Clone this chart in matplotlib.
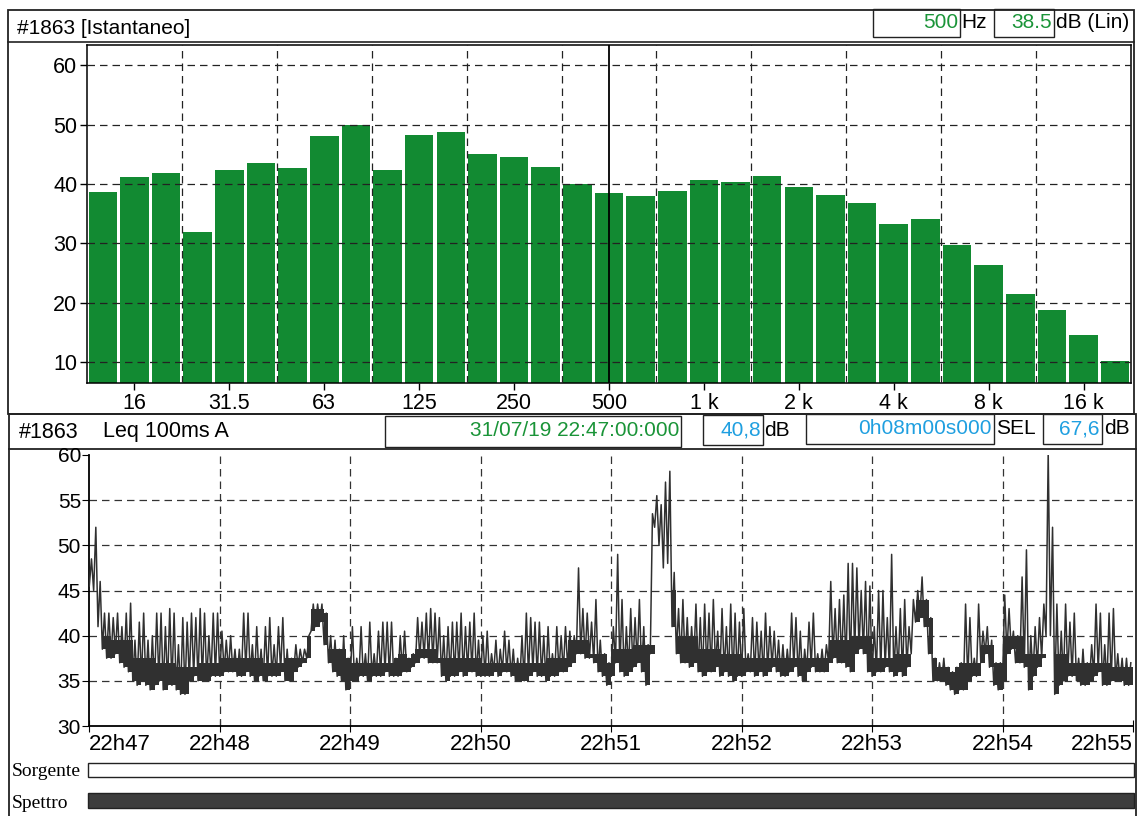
import numpy as np
import matplotlib
matplotlib.use('Agg')
import matplotlib.pyplot as plt
from matplotlib.patches import Rectangle

plt.rcParams['font.family'] = ['Liberation Sans', 'DejaVu Sans']

# third-octave spectrum 12.5 Hz .. 20 kHz, dB (Lin)
bands = ['12.5', '16', '20', '25', '31.5', '40', '50', '63', '80', '100',
         '125', '160', '200', '250', '315', '400', '500', '630', '800', '1k',
         '1.25k', '1.6k', '2k', '2.5k', '3.15k', '4k', '5k', '6.3k', '8k', '10k',
         '12.5k', '16k', '20k']
levels = [38.6, 41.1, 41.9, 31.9, 42.3, 43.6, 42.6, 48.1, 50.0, 42.4,
          48.2, 48.8, 45.0, 44.5, 42.9, 40.0, 38.5, 37.9, 38.8, 40.6,
          40.4, 41.3, 39.5, 38.1, 36.7, 33.2, 34.0, 29.7, 26.3, 21.5,
          18.8, 14.6, 10.2]
tick_bands = ['16', '31.5', '63', '125', '250', '500', '1k', '2k', '4k', '8k', '16k']
tick_labels = ['16', '31.5', '63', '125', '250', '500', '1 k', '2 k', '4 k', '8 k', '16 k']
grid_bands = ['25', '50', '100', '200', '400', '800', '1.6k', '3.15k', '6.3k', '12.5k']
cursor_band = '500'

# Leq 100ms A time history, min/max per 2 s bin, one list per minute
m0_lo = [45.5, 45, 41, 38.5, 37.5, 37.5, 38, 37, 36.5, 36, 35, 34.5, 35, 34.5, 34,
         34.5, 35, 34, 34.5, 34.5, 34, 33.5, 33.5, 35, 35.5, 35, 35, 35, 35.5, 35.5]
m0_hi = [48.5, 52, 46, 42.5, 42.5, 42, 42.5, 41, 42.5, 43.6, 39.5, 41.5, 42.5, 39.5, 40,
         42.5, 42.5, 41, 43, 42.5, 39, 42, 41.5, 42.5, 42, 43, 42.5, 40, 42.5, 42.5]
m1_lo = [35.5, 36, 36, 36, 35.5, 35.5, 36, 35.5, 35, 35.5, 35, 35.5, 35.5, 35.5, 36,
         35, 35, 36, 36.5, 37, 37.5, 40.5, 41, 41.5, 39, 37, 36, 35.5, 35, 34]
m1_hi = [40.5, 39.5, 40, 38.5, 38.5, 42.5, 42.5, 39, 41, 38.5, 41, 42, 39, 41, 42,
         38.5, 37.5, 39, 38.5, 38.5, 40, 43.5, 43.5, 43.5, 42.5, 40, 39.5, 38.5, 40, 37.5]
m2_lo = [35, 35, 35.5, 35.5, 35, 35.5, 35.5, 35.5, 36, 35.5, 35.5, 35.5, 36, 36, 36.5,
         37, 37.5, 37.5, 37, 37, 37, 35.5, 35, 35.5, 35.5, 36, 35.5, 36, 36, 35.5]
m2_hi = [41, 37.5, 41, 38, 41.5, 38, 40.5, 41.5, 41.5, 41.5, 37.5, 40, 40.5, 37.5, 38,
         42, 41.5, 42.5, 43, 42.5, 42, 40, 41, 41.5, 41.5, 42.5, 41, 41.5, 42.5, 39.5]
m3_lo = [35.5, 35.5, 35.5, 36, 35.5, 36, 36, 35.5, 35, 35, 35, 35.5, 36, 35.5, 35.5,
         35, 35.5, 35.5, 36, 36, 36.5, 37, 38, 38, 37.5, 37.5, 37, 36, 35.5, 34.5]
m3_hi = [40, 40.5, 38, 39.5, 38.5, 40.5, 39.5, 38.5, 37.5, 40, 42.5, 42, 41.5, 41.5, 40,
         41, 38, 41, 40, 41, 40.5, 40, 47.5, 43, 42.5, 41.5, 44, 39.5, 38, 37]
m4_lo = [35.5, 37, 36, 35.5, 36, 36.5, 37, 36, 34.5, 38, 52, 50, 47.5, 48, 41,
         38, 37, 37, 36.5, 37, 36, 35.5, 36, 36, 36.5, 35.5, 36, 35.5, 35, 35.5]
m4_hi = [41, 49, 44, 41, 43, 42, 44, 41, 39, 53.5, 55.5, 54.5, 57, 58.2, 47,
         43, 44, 42, 41, 43.5, 42, 43.5, 42.5, 44, 40.5, 43, 41, 43.5, 42.5, 41.5]
m5_lo = [35.5, 36, 36, 35.5, 36, 35.5, 36, 36.5, 36, 35.5, 35.5, 36, 36.5, 35.5, 35,
         36, 36.5, 36, 36, 36, 37, 37.5, 37, 37, 36.5, 36, 38, 38.5, 38, 36]
m5_hi = [43, 38, 42, 41.5, 40.5, 42.5, 41, 40.5, 39.5, 39, 38.5, 42.5, 42, 40.5, 38.5,
         41.5, 42.5, 38, 38.5, 39, 46, 43, 44, 44.5, 48, 48, 47.5, 45, 46, 45.5]
m6_lo = [35.5, 36, 36, 36.5, 36, 35.5, 36, 35.5, 36.5, 38, 41.5, 42, 41, 38, 35,
         35, 35, 34.5, 34, 33.5, 34, 34, 35, 35.5, 35.5, 37, 38, 36.5, 34.5, 34]
m6_hi = [41, 45, 45, 42, 49, 41, 43, 44, 41, 44, 45, 46.5, 44, 42, 37.5,
         37, 37.5, 36.5, 36, 36.5, 37, 43.5, 42, 37.5, 43.5, 40.5, 41, 39.5, 37, 37]
m7_lo = [35, 38, 38.5, 37, 37, 36.5, 34, 35.5, 36.5, 37.5, 40, 40, 33.5, 34.5, 35,
         35.5, 35.5, 35, 34.5, 34.5, 35, 35.5, 36, 34.5, 34.5, 35, 35, 35, 34.5, 34.5]
m7_hi = [44.5, 43, 40.5, 40, 46.5, 49.5, 40, 41, 42, 43.5, 60.3, 52, 43.5, 40.5, 43.5,
         41.5, 42.5, 37.5, 38.5, 37, 39, 43.5, 42.5, 39, 42.5, 43, 38, 37.5, 37.5, 37]
# top of the dense part of the trace, one value per 10 s
band_top = [40, 39.5, 37.5, 37, 36.5, 37,
            37.5, 37.5, 37, 37.5, 43, 38.5,
            37, 37, 38, 38.5, 37.5, 37.5,
            37, 37, 37, 37.5, 39.5, 38,
            38.5, 39, 45, 40, 38.5, 38,
            37.5, 37.5, 37.5, 37.5, 39.5, 40,
            37.5, 38, 44, 36.5, 37, 39,
            40, 38, 38, 37, 37, 36.5]
minute_labels = ['22h47', '22h48', '22h49', '22h50', '22h51', '22h52', '22h53', '22h54', '22h55']

GREEN = '#1a9438'
BLUE = '#1f9fe0'
BAR = '#128a32'
TRACE = '#303030'

fig = plt.figure(figsize=(11.39, 8.16), dpi=100)

# overlay in pixel coordinates for boxes and header texts
ov = fig.add_axes([0, 0, 1, 1])
ov.set_xlim(0, 1139)
ov.set_ylim(816, 0)
ov.axis('off')


def box(x0, y0, x1, y1, fc='none', lw=1.0):
    ov.add_patch(Rectangle((x0, y0), x1 - x0, y1 - y0, fc=fc, ec='#222222', lw=lw))


# top panel frame and header
box(8, 10, 1134, 414, lw=1.3)
ov.plot([8, 1134], [42, 42], color='#222222', lw=1.2)
box(873, 9, 960, 37)
box(994, 9, 1054, 37)
ov.text(17, 28, '#1863 [Istantaneo]', fontsize=15, va='center')
ov.text(958, 23, '500', fontsize=15, va='center', ha='right', color=GREEN)
ov.text(961, 23, 'Hz', fontsize=15, va='center')
ov.text(1052, 23, '38.5', fontsize=15, va='center', ha='right', color=GREEN)
ov.text(1056, 23, 'dB (Lin)', fontsize=15, va='center')

# bottom panel frame and header
box(9, 414, 1136, 449, lw=1.3)
ov.plot([9, 9], [449, 816], color='#222222', lw=1.3)
ov.plot([1136, 1136], [449, 816], color='#222222', lw=1.3)
box(385, 416, 681, 447)
box(703, 415, 763, 445)
box(806, 414, 994, 444)
box(1043, 414, 1102, 444)
ov.text(19, 432, '#1863', fontsize=15.5, va='center')
ov.text(103, 432, 'Leq 100ms A', fontsize=15.5, va='center')
ov.text(679, 431, '31/07/19 22:47:00:000', fontsize=15, va='center', ha='right', color=GREEN)
ov.text(761, 430, '40,8', fontsize=15, va='center', ha='right', color=BLUE)
ov.text(764, 430, 'dB', fontsize=15, va='center')
ov.text(992, 429, '0h08m00s000', fontsize=15, va='center', ha='right', color=BLUE)
ov.text(996, 429, 'SEL', fontsize=15, va='center')
ov.text(1100, 429, '67,6', fontsize=15, va='center', ha='right', color=BLUE)
ov.text(1104, 429, 'dB', fontsize=15, va='center')

# Sorgente / Spettro strips
box(88, 763, 1134, 777, fc='white')
box(88, 793, 1134, 808, fc='#3d3d3d')
serif = ['Liberation Serif', 'DejaVu Serif']
ov.text(12, 771, 'Sorgente', fontsize=14, va='center', family=serif)
ov.text(12, 804, 'Spettro', fontsize=14, va='center', family=serif)

dash = (0, (6, 4))

# ---- spectrum bars
ax1 = fig.add_axes([87 / 1139, 1 - 383 / 816, 1044 / 1139, 338 / 816])
x = np.arange(len(bands))
ax1.bar(x, levels, width=0.9, bottom=0, color=BAR, zorder=2)
ax1.set_xlim(-0.5, len(bands) - 0.5)
ax1.set_ylim(6.45, 63.4)
ax1.set_yticks([10, 20, 30, 40, 50, 60])
for v in [10, 20, 30, 40, 50, 60]:
    ax1.axhline(v, color='#222222', lw=0.9, ls=dash, zorder=3)
for b in grid_bands:
    ax1.axvline(bands.index(b) - 0.5, color='#222222', lw=0.9, ls=dash, zorder=3)
ax1.axvline(bands.index(cursor_band), color='black', lw=1.3, zorder=4)
ax1.set_xticks([bands.index(b) for b in tick_bands])
ax1.set_xticklabels(tick_labels)
ax1.tick_params(axis='both', labelsize=15.5, length=5, width=1.0, direction='out', pad=2)
for s in ax1.spines.values():
    s.set_linewidth(1.1)

# ---- Leq time history
ax2 = fig.add_axes([89.3 / 1139, 1 - 726 / 816, 1043.7 / 1139, 271 / 816])
lo = m0_lo + m1_lo + m2_lo + m3_lo + m4_lo + m5_lo + m6_lo + m7_lo
hi = m0_hi + m1_hi + m2_hi + m3_hi + m4_hi + m5_hi + m6_hi + m7_hi

# dense band: from each bin's minimum up to the band top (never above the bin max)
for i in range(len(lo)):
    top = min(hi[i], band_top[i // 5])
    if top > lo[i]:
        ax2.fill_between([2 * i / 60, 2 * (i + 1) / 60], lo[i], top,
                         color=TRACE, lw=0, zorder=3)

t, y = [], []
for i in range(len(lo)):
    t += [2 * i / 60, (2 * i + 1) / 60]
    y += [lo[i], hi[i]]
ax2.plot(t, y, color=TRACE, lw=1.1, zorder=3)
ax2.set_xlim(0, 8)
ax2.set_ylim(30, 60)
ax2.set_yticks(range(30, 61, 5))
ax2.set_xticks(range(0, 9))
ax2.set_xticklabels(minute_labels)
xl = ax2.get_xticklabels()
xl[0].set_ha('left')
xl[-1].set_ha('right')
for v in range(35, 60, 5):
    ax2.axhline(v, color='#333333', lw=0.9, ls=dash, zorder=2)
for m in range(1, 8):
    ax2.axvline(m, color='#333333', lw=0.9, ls=dash, zorder=2)
ax2.spines['top'].set_visible(False)
ax2.spines['right'].set_visible(False)
ax2.spines['left'].set_linewidth(1.3)
ax2.spines['bottom'].set_linewidth(1.3)
ax2.tick_params(axis='y', labelsize=15, length=5, direction='out', pad=1)
ax2.tick_params(axis='x', labelsize=16, length=8, direction='inout', pad=2)

fig.savefig('out.png', dpi=100)
